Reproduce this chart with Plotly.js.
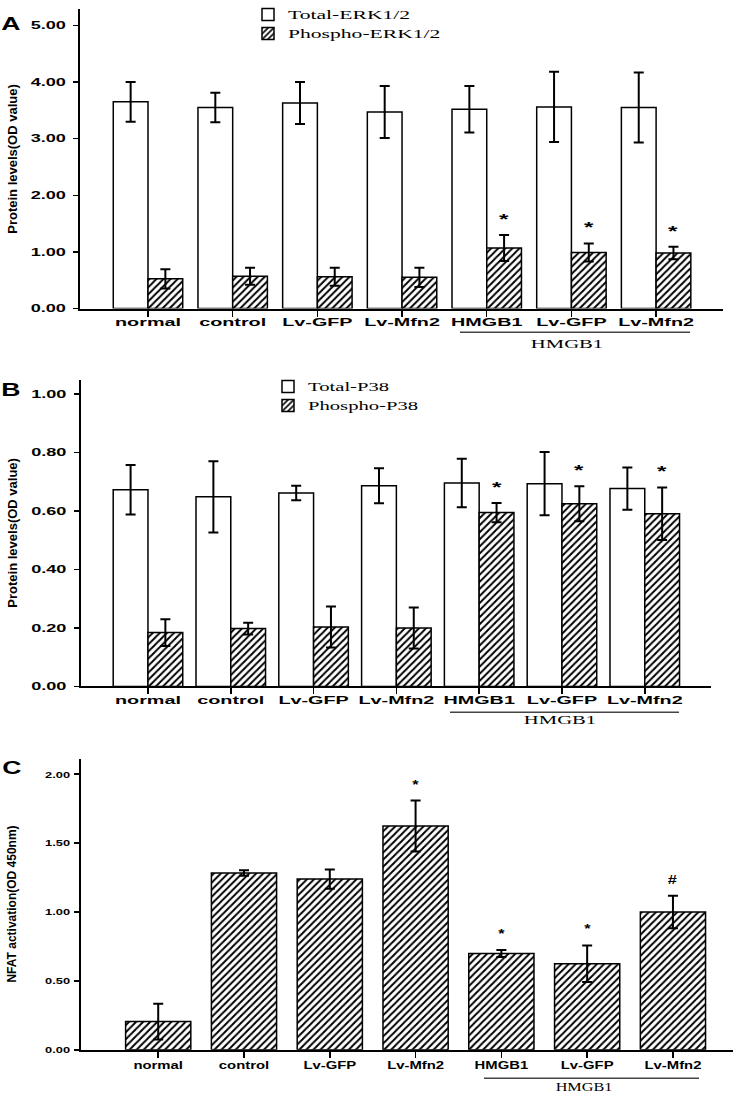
<!DOCTYPE html>
<html><head><meta charset="utf-8">
<script src="https://cdn.plot.ly/plotly-3.0.1.min.js"></script>
<style>body{margin:0;background:#fff}</style>
</head><body><div id="chart" style="width:750px;height:1094px"></div>
<script>
const categories = ['normal','control','Lv-GFP','Lv-Mfn2','HMGB1','Lv-GFP','Lv-Mfn2'];
const totalERK = [3.65,3.55,3.63,3.47,3.52,3.56,3.55];
const totalERKErr = [0.35,0.26,0.37,0.46,0.41,0.62,0.62];
const phosphoERK = [0.525,0.57,0.56,0.55,1.07,0.99,0.98];
const phosphoERKErr = [0.17,0.15,0.16,0.17,0.23,0.16,0.11];
const markERK = ['','','','','*','*','*'];
const totalP38 = [0.673,0.649,0.662,0.687,0.696,0.694,0.677];
const totalP38Err = [0.085,0.122,0.025,0.06,0.083,0.108,0.072];
const phosphoP38 = [0.184,0.198,0.203,0.200,0.595,0.625,0.591];
const phosphoP38Err = [0.046,0.02,0.07,0.07,0.033,0.06,0.09];
const markP38 = ['','','','','*','*','*'];
const nfat = [0.205,1.284,1.239,1.624,0.699,0.625,1.001];
const nfatErr = [0.13,0.02,0.07,0.185,0.026,0.133,0.118];
const markNFAT = ['','','','*','*','*','#'];
const groupLabel = 'HMGB1';
const legendA = ['Total-ERK1/2','Phospho-ERK1/2'];
const legendB = ['Total-P38','Phospho-P38'];
const yTitleAB = 'Protein levels(OD value)';
const yTitleC = 'NFAT activation(OD 450nm)';
const panelLetters = ['A','B','C'];

const xs = categories.map((_, i) => i);
const W = 750, H = 1094;
const px = v => v / W;
const py = v => 1 - v / H;
const SANS = 'Liberation Sans, Arial, sans-serif';
const SERIF = 'Liberation Serif, Times New Roman, serif';

const openMarker = {color: 'white', line: {color: 'black', width: 1.5}};
const hatchMarker = {color: 'white', line: {color: 'black', width: 1.5},
  pattern: {shape: '/', fgcolor: 'black', bgcolor: 'white', size: 5, solidity: 0.4}};
function err(arr) {
  return {type: 'data', array: arr, visible: true, color: 'black', thickness: 2, width: 5};
}

const bwA = 0.41, bwB = 0.42, bwC = 0.76;
const traces = [
  {type: 'bar', name: legendA[0], x: xs, y: totalERK, width: bwA, offset: -bwA,
   marker: openMarker, error_y: err(totalERKErr), xaxis: 'x', yaxis: 'y', legend: 'legend'},
  {type: 'bar', name: legendA[1], x: xs, y: phosphoERK, width: bwA, offset: 0,
   marker: hatchMarker, error_y: err(phosphoERKErr), xaxis: 'x', yaxis: 'y', legend: 'legend'},
  {type: 'bar', name: legendB[0], x: xs, y: totalP38, width: bwB, offset: -bwB,
   marker: openMarker, error_y: err(totalP38Err), xaxis: 'x2', yaxis: 'y2', legend: 'legend2'},
  {type: 'bar', name: legendB[1], x: xs, y: phosphoP38, width: bwB, offset: 0,
   marker: hatchMarker, error_y: err(phosphoP38Err), xaxis: 'x2', yaxis: 'y2', legend: 'legend2'},
  {type: 'bar', name: 'NFAT', x: xs, y: nfat, width: bwC, offset: -bwC / 2,
   marker: hatchMarker, error_y: err(nfatErr), xaxis: 'x3', yaxis: 'y3', showlegend: false}
];

function xaxis(dom, range, size, anchor, standoff) {
  return {domain: dom, range: range, anchor: anchor, tickvals: xs, ticktext: categories,
    showline: true, linewidth: 2, linecolor: 'black', ticks: 'outside', ticklen: 6, tickwidth: 1.5,
    tickcolor: 'black', showgrid: false, zeroline: false, fixedrange: true, ticklabelstandoff: standoff,
    tickfont: {family: SANS, size: size, weight: 'bold', color: 'black'}};
}
function yaxis(dom, range, dtick, size, anchor, standoff) {
  return {domain: dom, range: range, anchor: anchor, dtick: dtick, tick0: 0, tickformat: '.2f',
    showline: true, linewidth: 2, linecolor: 'black', ticks: 'outside', ticklen: 5, tickwidth: 1.5,
    tickcolor: 'black', showgrid: false, zeroline: false, fixedrange: true, ticklabelstandoff: standoff,
    tickfont: {family: SANS, size: size, weight: 'bold', color: 'black'}};
}

const annotations = [];
function ann(o) { annotations.push(Object.assign({showarrow: false, xref: 'paper', yref: 'paper'}, o)); }
const letterFont = {family: SANS, size: 19, weight: 'bold', color: 'black'};
ann({text: panelLetters[0], x: px(11), y: py(15), xanchor: 'center', yanchor: 'middle', font: letterFont});
ann({text: panelLetters[1], x: px(11), y: py(384), xanchor: 'center', yanchor: 'middle', font: letterFont});
ann({text: panelLetters[2], x: px(12), y: py(765), xanchor: 'center', yanchor: 'middle', font: letterFont});
ann({text: yTitleAB, x: px(13), y: py(151), textangle: -90, xanchor: 'center', yanchor: 'middle', font: {family: SANS, size: 13, weight: 'bold', color: 'black'}});
ann({text: yTitleAB, x: px(13), y: py(528), textangle: -90, xanchor: 'center', yanchor: 'middle', font: {family: SANS, size: 13, weight: 'bold', color: 'black'}});
ann({text: yTitleC, x: px(12), y: py(903), textangle: -90, xanchor: 'center', yanchor: 'middle', font: {family: SANS, size: 12, weight: 'bold', color: 'black'}});
ann({text: groupLabel, x: px(567), y: py(338), xanchor: 'center', yanchor: 'middle', font: {family: SERIF, size: 12, color: 'black'}});
ann({text: groupLabel, x: px(560), y: py(717), xanchor: 'center', yanchor: 'middle', font: {family: SERIF, size: 12, color: 'black'}});
ann({text: groupLabel, x: px(584), y: py(1087), xanchor: 'center', yanchor: 'middle', font: {family: SERIF, size: 12, color: 'black'}});

function marks(labels, vals, errs, off, xr, yr, size) {
  labels.forEach((m, i) => {
    if (!m) return;
    annotations.push({text: m, x: xs[i] + off, y: vals[i] + errs[i], xref: xr, yref: yr,
      showarrow: false, xanchor: 'center', yanchor: 'middle', yshift: 16,
      font: {family: SANS, size: size, weight: 'bold', color: 'black'}});
  });
}
marks(markERK, phosphoERK, phosphoERKErr, bwA / 2, 'x', 'y', 14);
marks(markP38, phosphoP38, phosphoP38Err, bwB / 2, 'x2', 'y2', 14);
marks(markNFAT, nfat, nfatErr, 0, 'x3', 'y3', 12);

const lineStyle = {color: '#444', width: 1.5};
const shapes = [
  {type: 'line', xref: 'paper', yref: 'paper', x0: px(460), x1: px(690), y0: py(326), y1: py(326), line: lineStyle},
  {type: 'line', xref: 'paper', yref: 'paper', x0: px(450), x1: px(679), y0: py(709), y1: py(709), line: lineStyle},
  {type: 'line', xref: 'paper', yref: 'paper', x0: px(484), x1: px(699), y0: py(1078), y1: py(1078), line: lineStyle}
];

const legendStyle = {bgcolor: 'rgba(0,0,0,0)', borderwidth: 0, xanchor: 'left', yanchor: 'top',
  font: {family: SERIF, size: 12, color: 'black'}, traceorder: 'normal'};

const layout = {
  width: W, height: H, margin: {l: 0, r: 0, t: 0, b: 0},
  paper_bgcolor: 'white', plot_bgcolor: 'white', barmode: 'group', showlegend: true,
  xaxis: xaxis([px(80), px(723)], [-0.803, 6.79], 11.5, 'y', -4),
  yaxis: yaxis([py(302), py(0)], [0, 5.29], 1, 10.5, 'x', 5),
  xaxis2: xaxis([px(80.5), px(711)], [-0.815, 6.80], 11.5, 'y2', -4),
  yaxis2: yaxis([py(683), py(374)], [0, 1.049], 0.2, 10.5, 'x2', 5),
  xaxis3: xaxis([px(81), px(733)], [-0.90, 6.70], 11, 'y3', -2),
  yaxis3: yaxis([py(1049.5), py(756)], [0, 2.112], 0.5, 9.5, 'x3', 2),
  legend: Object.assign({x: px(248), y: py(-9)}, legendStyle),
  legend2: Object.assign({x: px(268), y: py(366)}, legendStyle),
  annotations: annotations, shapes: shapes
};

function stretch() {
  const gd = document.getElementById('chart');
  gd.querySelectorAll('[clip-path]').forEach(e => {
    if ((e.getAttribute('clip-path') || '').indexOf('legend') >= 0) e.removeAttribute('clip-path');
  });
  gd.querySelectorAll('g.legend, g.legend2').forEach(g => {
    g.removeAttribute('clip-path');
    g.querySelectorAll('[clip-path]').forEach(e => e.removeAttribute('clip-path'));
  });
  gd.querySelectorAll('text').forEach(t => {
    const s = t.textContent;
    if (!s || s === yTitleAB || s === yTitleC) return;
    const r = t.getBoundingClientRect();
    const cy = r.top + r.height / 2;
    let f = cy < 740 ? 1.72 : 1.35;
    if (panelLetters.includes(s)) f = 1.4;
    if (t.classList.contains('legendtext')) f = 1.8;
    const w = t.getComputedTextLength();
    if (w > 0) {
      t.setAttribute('textLength', (w * f).toFixed(1));
      t.setAttribute('lengthAdjust', 'spacingAndGlyphs');
    }
  });
}

Plotly.newPlot('chart', traces, layout, {displayModeBar: false, staticPlot: true}).then(stretch);
</script></body></html>
